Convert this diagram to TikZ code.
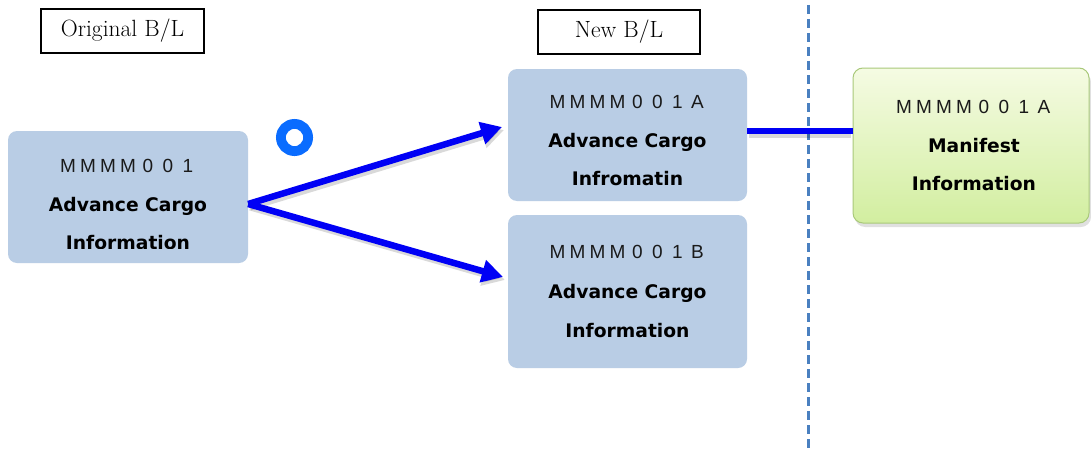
\documentclass[tikz,border=0pt]{standalone}
\usepackage{fontspec}
\setsansfont{DejaVu Sans}
\newfontfamily\codefont{Liberation Sans}
\usetikzlibrary{arrows.meta}
\definecolor{boxblue}{HTML}{B9CDE5}
\definecolor{arrblue}{HTML}{0000F5}
\definecolor{ringblue}{HTML}{0A6CFF}
\definecolor{dashblue}{HTML}{4A80C0}
\definecolor{gtop}{HTML}{F5FBE3}
\definecolor{gbot}{HTML}{D2EEA0}
\definecolor{gborder}{HTML}{A9C97A}
\definecolor{codegray}{HTML}{1A1A1A}
\newcommand{\chcell}[1]{\makebox[20pt]{#1}}
\tikzset{
  blbox/.style={draw=black, line width=1.1pt, fill=white, inner sep=0pt,
    font=\fontsize{23.5}{26}\selectfont},
  infobox/.style={fill=boxblue, rounded corners=9pt, inner sep=0pt},
  codetxt/.style={anchor=base, inner sep=0pt, text=codegray,
    font=\codefont\fontsize{19}{20}\selectfont},
  boldtxt/.style={anchor=base, inner sep=0pt, text=black,
    font=\sffamily\bfseries\fontsize{18.7}{20}\selectfont},
  conn/.style={draw=arrblue, line width=6.5pt},
  connarrow/.style={conn, -{Triangle[length=21pt,width=22pt]}},
  connshadow/.style={draw=black, opacity=0.15, line width=7pt},
  shadowarrow/.style={connshadow, -{Triangle[length=22pt,width=23pt]}},
}
\begin{document}
\begin{tikzpicture}[x=1pt,y=-1pt]
\useasboundingbox[fill=white] (0,0) rectangle (1091,452);

% header labels
\node[blbox, minimum width=163pt, minimum height=44pt] (orig) at (122.5,31) {Original B/L};
\node[blbox, minimum width=162pt, minimum height=44pt] (newbl) at (619,32) {New B/L};

% dashed separator
\coordinate (dtop) at (808,5);
\coordinate (dbot) at (808,452);
\draw[dashblue, line width=3pt, dash pattern=on 9pt off 5pt] (dtop) -- (dbot);

% boxes
\node[infobox, minimum width=240pt, minimum height=132pt] (L) at (128,197) {};
\node[infobox, minimum width=239pt, minimum height=132pt] (A) at (627.5,135) {};
\node[infobox, minimum width=239pt, minimum height=153pt] (B) at (627.5,291.5) {};

% green box with shadow
\fill[black, opacity=0.12, rounded corners=10pt] (855,72) rectangle (1091,227);
\node[draw=gborder, line width=1pt, rounded corners=10pt, top color=gtop, bottom color=gbot,
  minimum width=236pt, minimum height=155pt, inner sep=0pt] (G) at (971,145.5) {};

% texts of left box (last line clipped)
\node[codetxt] (L1) at (128,172) {\chcell{M}\chcell{M}\chcell{M}\chcell{M}\chcell{0}\chcell{0}\chcell{1}};
\node[boldtxt] (L2) at (128,211) {Advance Cargo};
\begin{scope}
\clip (0,0) rectangle (1091,248);
\node[boldtxt] (L3) at (128,249.5) {Information};
\end{scope}

% texts of box A
\node[codetxt] (A1) at (627.5,108) {\chcell{M}\chcell{M}\chcell{M}\chcell{M}\chcell{0}\chcell{0}\chcell{1}\chcell{A}};
\node[boldtxt] (A2) at (627.5,147) {Advance Cargo};
\node[boldtxt] (A3) at (627.5,185.5) {Infromatin};

% texts of box B
\node[codetxt] (B1) at (627.5,258) {\chcell{M}\chcell{M}\chcell{M}\chcell{M}\chcell{0}\chcell{0}\chcell{1}\chcell{B}};
\node[boldtxt] (B2) at (627.5,298) {Advance Cargo};
\node[boldtxt] (B3) at (627.5,337) {Information};

% texts of green box
\node[codetxt] (G1) at (974,113) {\chcell{M}\chcell{M}\chcell{M}\chcell{M}\chcell{0}\chcell{0}\chcell{1}\chcell{A}};
\node[boldtxt] (G2) at (974,152) {Manifest};
\node[boldtxt] (G3) at (974,190.5) {Information};

% ring mark
\node[circle, draw=ringblue, line width=9.8pt, minimum size=27.2pt, inner sep=0pt] (ring) at (294.5,137.5) {};

% connectors
\coordinate (src) at ([yshift=-7pt]L.east);
\coordinate (tA) at (502,127);
\coordinate (tB) at (503,277);
\draw[shadowarrow] ([shift={(2pt,-3pt)}]src) -- ([shift={(2pt,-3pt)}]tA);
\draw[shadowarrow] ([shift={(2pt,-3pt)}]src) -- ([shift={(2pt,-3pt)}]tB);
\draw[connshadow] ([shift={(2pt,1pt)}]A.east) -- ([shift={(-2pt,1pt)}]A.east -| G.west);
\draw[connarrow] (src) -- (tA);
\draw[connarrow] (src) -- (tB);
\draw[conn] ([yshift=4pt]A.east) -- ([yshift=4pt]A.east -| G.west);
\end{tikzpicture}
\end{document}
